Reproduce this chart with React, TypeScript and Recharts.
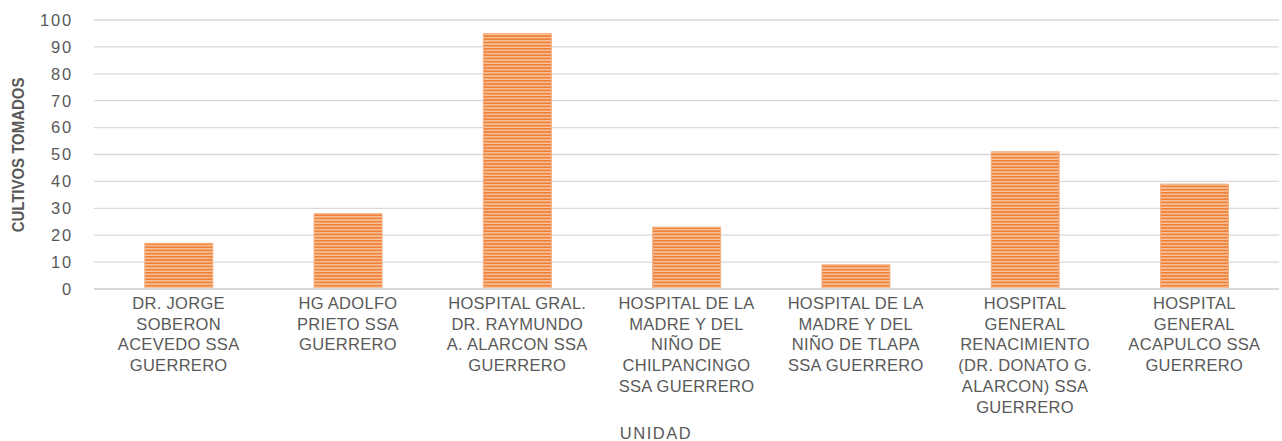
import { BarChart, Bar, XAxis, YAxis, CartesianGrid } from 'recharts'

const unidades = [
  'DR. JORGE\nSOBERON\nACEVEDO SSA\nGUERRERO',
  'HG ADOLFO\nPRIETO SSA\nGUERRERO',
  'HOSPITAL GRAL.\nDR. RAYMUNDO\nA. ALARCON SSA\nGUERRERO',
  'HOSPITAL DE LA\nMADRE Y DEL\nNIÑO DE\nCHILPANCINGO\nSSA GUERRERO',
  'HOSPITAL DE LA\nMADRE Y DEL\nNIÑO DE TLAPA\nSSA GUERRERO',
  'HOSPITAL\nGENERAL\nRENACIMIENTO\n(DR. DONATO G.\nALARCON) SSA\nGUERRERO',
  'HOSPITAL\nGENERAL\nACAPULCO SSA\nGUERRERO',
]
const cultivos = [17, 28, 95, 23, 9, 51, 39]
const yTicks = [0, 10, 20, 30, 40, 50, 60, 70, 80, 90, 100]

const data = unidades.map((u, i) => ({ unidad: u, cultivos: cultivos[i] }))

const textColor = '#595959'
const font = '"Liberation Sans", Arial, sans-serif'

function UnidadTick({ x, y, payload }: any) {
  const lines = String(payload.value).split('\n')
  return (
    <text x={x} y={y} textAnchor="middle" fill={textColor} fontSize={16.5} letterSpacing={0.3} fontFamily={font}>
      {lines.map((l, i) => (
        <tspan key={i} x={x} dy={i === 0 ? 12 : 20.7}>{l}</tspan>
      ))}
    </text>
  )
}

export default function App() {
  return (
    <div style={{ position: 'absolute', left: 0, top: 0, width: 1282, height: 441, background: '#fff' }}>
      <svg width={1} height={1} style={{ position: 'absolute', left: 0, top: 0 }}>
        <defs>
          <pattern id="barStripes" patternUnits="userSpaceOnUse" width="8" height="3.2">
            <rect x="0" y="0" width="8" height="3.2" fill="#F9C39B" />
            <rect x="0" y="0" width="8" height="1.7" fill="#EF8038" />
          </pattern>
        </defs>
      </svg>
      <BarChart
        width={1282}
        height={441}
        data={data}
        margin={{ top: 20, right: 3, bottom: 0, left: 0 }}
        barCategoryGap="30%"
      >
        <CartesianGrid vertical={false} stroke="#d9d9d9" strokeWidth={1.3} />
        <XAxis
          dataKey="unidad"
          interval={0}
          tick={<UnidadTick />}
          tickLine={false}
          axisLine={{ stroke: '#d9d9d9', strokeWidth: 2 }}
          height={152}
        />
        <YAxis
          domain={[0, 100]}
          ticks={yTicks}
          interval={0}
          tickLine={false}
          axisLine={false}
          tickSize={0}
          tickMargin={21}
          width={94}
          tick={{ fill: textColor, fontSize: 16.5, fontFamily: font, letterSpacing: 1.8 }}
        />
        <Bar
          dataKey="cultivos"
          fill="url(#barStripes)"
          stroke="#F4B183"
          strokeWidth={1}
          isAnimationActive={false}
        />
      </BarChart>
      <svg width={1282} height={441} style={{ position: 'absolute', left: 0, top: 0, pointerEvents: 'none' }}>
        <text
          transform="translate(24, 155) rotate(-90) scale(0.88, 1)"
          textAnchor="middle"
          fill={textColor}
          fontSize={17}
          fontWeight="bold"
          fontFamily={font}
        >
          CULTIVOS TOMADOS
        </text>
        <text x={656} y={439} textAnchor="middle" fill={textColor} fontSize={16.5} letterSpacing={1.5} fontFamily={font}>
          UNIDAD
        </text>
      </svg>
    </div>
  )
}
